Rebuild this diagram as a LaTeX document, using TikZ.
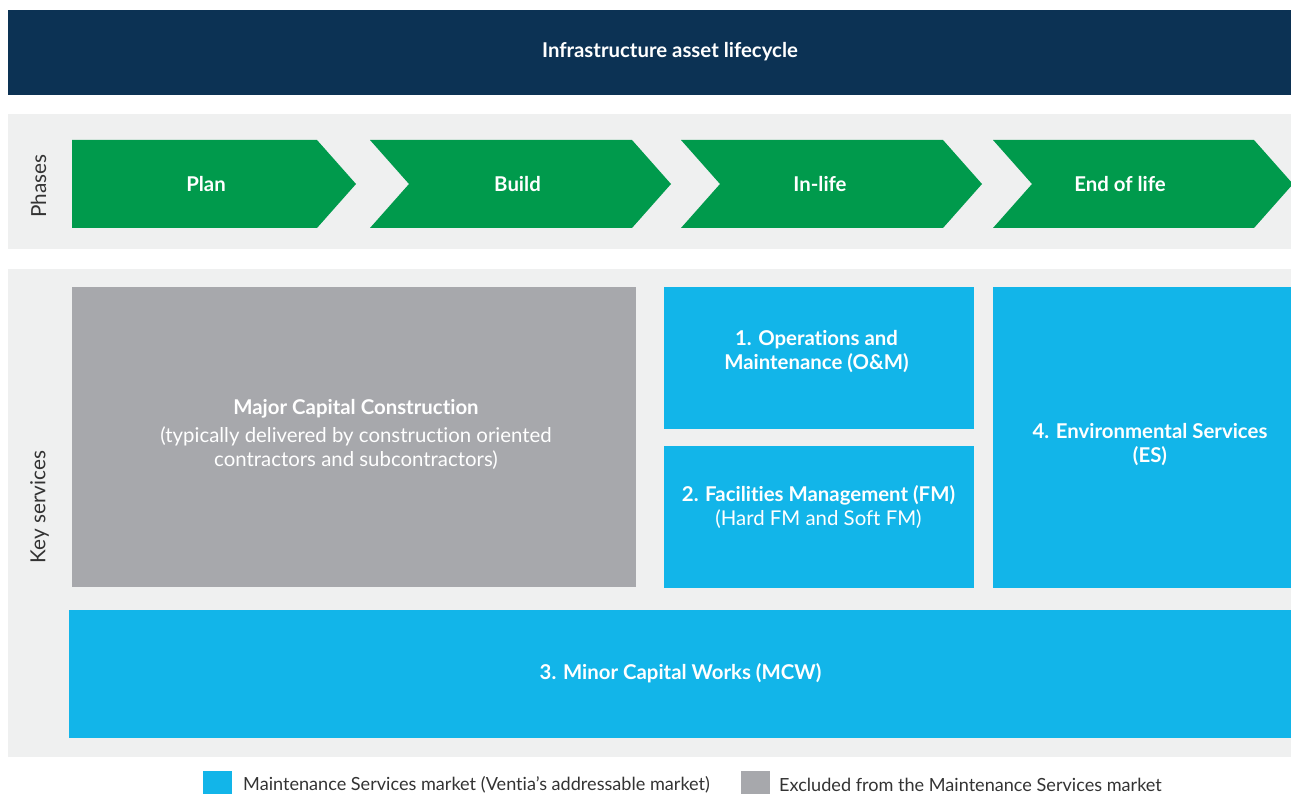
\documentclass[tikz,border=0pt]{standalone}
\usepackage{fontspec}
\setmainfont{Lato}[Ligatures=NoCommon]
\definecolor{navy}{HTML}{0C3254}
\definecolor{phasegreen}{HTML}{009A4C}
\definecolor{bandgray}{HTML}{EFF0F0}
\definecolor{svccyan}{HTML}{12B5E9}
\definecolor{svcgray}{HTML}{A7A8AC}
\definecolor{labelgray}{HTML}{333333}
\begin{document}
\begin{tikzpicture}[
      banda/.style={fill=bandgray, inner sep=0pt},
      fase/.style={fill=phasegreen},
      caja/.style={fill=svccyan, inner sep=0pt},
      excluida/.style={fill=svcgray, inner sep=0pt},
      etiqueta/.style={font=\fontsize{11.6}{13.7}\selectfont\bfseries, text=white, align=center},
      nota/.style={font=\fontsize{11.6}{13.7}\selectfont, text=white, align=center},
      lado/.style={font=\fontsize{11.8}{14}\selectfont, text=labelgray, rotate=90},
      leyenda/.style={font=\fontsize{10.3}{12}\selectfont, text=labelgray, anchor=west}
    ]
    \useasboundingbox (0,0) rectangle (25.82,-15.88);

    % --- cabecera ---
    \node[fill=navy, minimum width=25.66cm, minimum height=1.7cm] (head) at (12.99,-1.05) {};
    \node[etiqueta] (headtxt) at (13.4,-1.04) {Infrastructure asset lifecycle};

    % --- fases ---
    \node[banda, minimum width=25.66cm, minimum height=2.7cm] (phases) at (12.99,-3.63) {};
    \node[lado] (phaseslbl) at (0.77,-3.72) {Phases};
    \fill[fase] (1.44,-2.8) -- (6.34,-2.8) -- (7.12,-3.68) -- (6.34,-4.56) -- (1.44,-4.56) -- cycle;
    \node[etiqueta] (plan) at (4.12,-3.68) {Plan};
    \fill[fase] (7.40,-2.8) -- (12.64,-2.8) -- (13.42,-3.68) -- (12.64,-4.56) -- (7.40,-4.56) -- (8.18,-3.68) -- cycle;
    \node[etiqueta] (build) at (10.35,-3.68) {Build};
    \fill[fase] (13.62,-2.8) -- (18.86,-2.8) -- (19.64,-3.68) -- (18.86,-4.56) -- (13.62,-4.56) -- (14.40,-3.68) -- cycle;
    \node[etiqueta] (inlife) at (16.4,-3.68) {In-life};
    \fill[fase] (19.86,-2.8) -- (25.08,-2.8) -- (25.86,-3.68) -- (25.08,-4.56) -- (19.86,-4.56) -- (20.64,-3.68) -- cycle;
    \node[etiqueta] (endlife) at (22.4,-3.68) {End of life};

    % --- servicios ---
    \node[banda, minimum width=25.66cm, minimum height=9.76cm] (services) at (12.99,-10.26) {};
    \node[lado] (serviceslbl) at (0.79,-10.14) {Key services};

    \node[excluida, minimum width=11.28cm, minimum height=6.0cm] (major) at (7.08,-8.74) {};
    \node[etiqueta] (majortxt) at (7.12,-8.18) {Major Capital Construction};
    \node[nota] (majornote) at (7.12,-8.96) {(typically delivered by construction oriented\\contractors and subcontractors)};

    \node[caja, minimum width=6.2cm, minimum height=2.84cm] (om) at (16.38,-7.16) {};
    \node[etiqueta] (omtxt) at (16.33,-7.04) {1. Operations and\\Maintenance (O\&M)};

    \node[caja, minimum width=6.2cm, minimum height=2.84cm] (fm) at (16.38,-10.34) {};
    \node[etiqueta] (fmtxt) at (16.37,-9.9) {2. Facilities Management (FM)};
    \node[nota] (fmnote) at (16.37,-10.38) {(Hard FM and Soft FM)};

    \node[caja, minimum width=5.96cm, minimum height=6.02cm] (es) at (22.84,-8.75) {};
    \node[etiqueta] (estxt) at (23.0,-8.9) {4. Environmental Services\\(ES)};

    \node[caja, minimum width=24.44cm, minimum height=2.56cm] (mcw) at (13.6,-13.48) {};
    \node[etiqueta] (mcwtxt) at (13.61,-13.46) {3. Minor Capital Works (MCW)};

    % --- leyenda ---
    \node[caja, minimum width=0.58cm, minimum height=0.58cm] (keycyan) at (4.35,-15.71) {};
    \node[leyenda] (keycyantxt) at (4.74,-15.7) {Maintenance Services market (Ventia’s addressable market)};
    \node[excluida, minimum width=0.58cm, minimum height=0.58cm] (keygray) at (15.11,-15.71) {};
    \node[leyenda] (keygraytxt) at (15.46,-15.7) {Excluded from the Maintenance Services market};
  \end{tikzpicture}
\end{document}
